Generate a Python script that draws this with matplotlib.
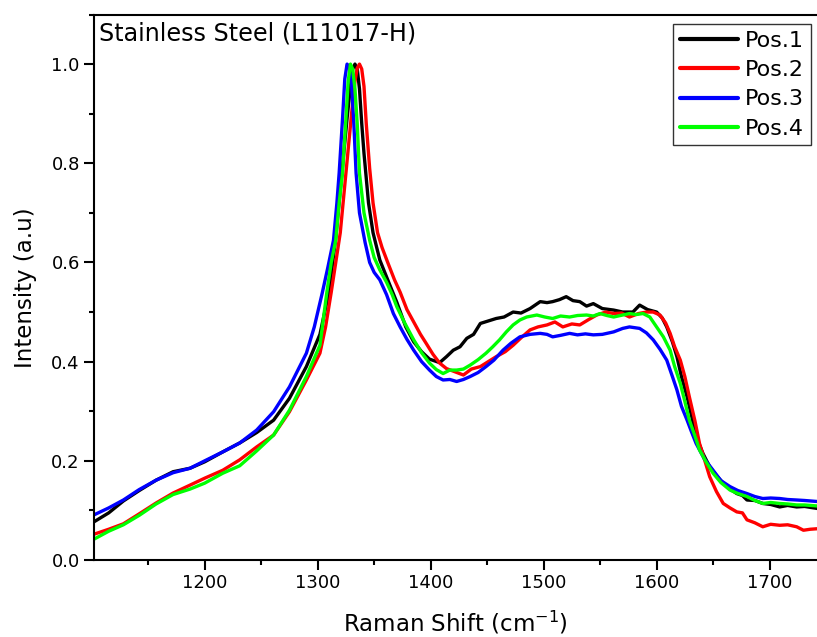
import matplotlib
matplotlib.use("Agg")
import matplotlib.pyplot as plt
from matplotlib.ticker import MultipleLocator

plt.rcParams['font.family'] = ['DejaVu Sans']
plt.rcParams['mathtext.fontset'] = 'dejavusans'

title_text = "Stainless Steel (L11017-H)"
x_label = "Raman Shift (cm$^{-1}$)"
y_label = "Intensity (a.u)"
series_names = ["Pos.1", "Pos.2", "Pos.3", "Pos.4"]
series_colors = ["#000000", "#ff0000", "#0000ff", "#00ff00"]

pos1_x = [1102, 1115, 1128, 1142, 1157, 1172, 1187, 1200, 1216, 1231, 1246, 1261, 1275, 1290, 1302,
          1310, 1316, 1321, 1326, 1329, 1331, 1333, 1335, 1337, 1339, 1341, 1345, 1349, 1355, 1362, 1370, 1378,
          1385, 1392, 1399, 1408, 1414, 1420, 1426, 1432, 1438, 1444, 1451, 1458, 1465, 1473, 1480,
          1488, 1497, 1503, 1508, 1514, 1520, 1526, 1532, 1538, 1544, 1552, 1562, 1570, 1579, 1585,
          1592, 1600, 1605, 1609, 1614, 1618, 1622, 1627, 1631, 1635, 1641, 1647, 1653, 1659, 1665,
          1671, 1676, 1680, 1687, 1694, 1701, 1709, 1716, 1724, 1731, 1742]
pos1_y = [0.077, 0.095, 0.119, 0.140, 0.161, 0.178, 0.185, 0.198, 0.218, 0.236, 0.257, 0.282, 0.326, 0.390, 0.455,
          0.540, 0.650, 0.770, 0.890, 0.955, 0.990, 1.000, 0.990, 0.950, 0.880, 0.820, 0.720, 0.660, 0.605, 0.565, 0.520, 0.470,
          0.440, 0.420, 0.405, 0.398, 0.410, 0.423, 0.430, 0.447, 0.455, 0.477, 0.482, 0.487, 0.490, 0.500, 0.498,
          0.507, 0.521, 0.519, 0.521, 0.525, 0.531, 0.523, 0.521, 0.512, 0.517, 0.507, 0.504, 0.500, 0.500, 0.514,
          0.505, 0.500, 0.488, 0.470, 0.440, 0.410, 0.370, 0.329, 0.290, 0.249, 0.215, 0.188, 0.170, 0.155, 0.143,
          0.134, 0.130, 0.121, 0.120, 0.114, 0.112, 0.107, 0.110, 0.107, 0.108, 0.104]

pos2_x = [1102, 1115, 1128, 1142, 1157, 1172, 1187, 1200, 1216, 1231, 1246, 1261, 1275, 1290, 1302,
          1307, 1312, 1316, 1320, 1325, 1330, 1333, 1335, 1337, 1339, 1341, 1343, 1346, 1349, 1353, 1357, 1362,
          1368, 1373, 1379, 1385, 1391, 1396, 1402, 1408, 1414, 1421, 1429, 1436, 1444, 1451, 1458,
          1466, 1473, 1480, 1488, 1495, 1503, 1510, 1517, 1525, 1532, 1540, 1547, 1555, 1562, 1569,
          1576, 1584, 1591, 1597, 1603, 1608, 1612, 1616, 1621, 1625, 1629, 1634, 1638, 1643, 1647,
          1653, 1659, 1665, 1671, 1676, 1680, 1687, 1694, 1701, 1709, 1716, 1724, 1730, 1736, 1742]
pos2_y = [0.052, 0.062, 0.073, 0.093, 0.115, 0.135, 0.151, 0.165, 0.181, 0.202, 0.228, 0.252, 0.299, 0.363, 0.417,
          0.470, 0.540, 0.600, 0.660, 0.780, 0.900, 0.965, 0.992, 1.000, 0.990, 0.955, 0.880, 0.790, 0.720, 0.660, 0.630, 0.600,
          0.565, 0.540, 0.505, 0.480, 0.455, 0.437, 0.415, 0.397, 0.386, 0.380, 0.373, 0.385, 0.390, 0.400, 0.410,
          0.420, 0.433, 0.448, 0.464, 0.470, 0.474, 0.480, 0.470, 0.476, 0.474, 0.485, 0.494, 0.500, 0.497, 0.498,
          0.490, 0.497, 0.500, 0.500, 0.494, 0.478, 0.457, 0.430, 0.403, 0.370, 0.329, 0.280, 0.235, 0.198, 0.168,
          0.138, 0.114, 0.105, 0.097, 0.095, 0.081, 0.075, 0.067, 0.072, 0.070, 0.071, 0.067, 0.060, 0.062, 0.063]

pos3_x = [1102, 1115, 1128, 1142, 1157, 1172, 1187, 1200, 1216, 1231, 1246, 1261, 1275, 1290, 1297,
          1304, 1309, 1314, 1317, 1319, 1322, 1324, 1326, 1328, 1330, 1332, 1334, 1337, 1342, 1346, 1350, 1355,
          1361, 1367, 1373, 1379, 1385, 1392, 1399, 1405, 1411, 1417, 1423, 1429, 1435, 1442, 1449,
          1456, 1464, 1471, 1479, 1488, 1497, 1503, 1508, 1515, 1523, 1530, 1537, 1544, 1552, 1562,
          1570, 1576, 1585, 1591, 1597, 1603, 1609, 1614, 1618, 1622, 1627, 1631, 1635, 1642, 1650,
          1657, 1665, 1672, 1680, 1687, 1694, 1701, 1709, 1716, 1724, 1731, 1742]
pos3_y = [0.091, 0.105, 0.121, 0.142, 0.161, 0.176, 0.185, 0.200, 0.218, 0.236, 0.262, 0.299, 0.349, 0.417, 0.470,
          0.538, 0.590, 0.645, 0.720, 0.780, 0.890, 0.970, 1.000, 0.995, 0.960, 0.880, 0.780, 0.700, 0.640, 0.600, 0.580, 0.565,
          0.535, 0.497, 0.470, 0.445, 0.423, 0.400, 0.383, 0.370, 0.363, 0.364, 0.360, 0.364, 0.370, 0.378, 0.390,
          0.403, 0.423, 0.437, 0.450, 0.455, 0.457, 0.455, 0.450, 0.453, 0.457, 0.454, 0.456, 0.454, 0.455, 0.460,
          0.467, 0.470, 0.467, 0.458, 0.444, 0.425, 0.403, 0.370, 0.343, 0.310, 0.282, 0.258, 0.235, 0.205, 0.181,
          0.160, 0.148, 0.140, 0.134, 0.128, 0.124, 0.125, 0.124, 0.122, 0.121, 0.120, 0.118]

pos4_x = [1102, 1115, 1128, 1142, 1157, 1172, 1187, 1200, 1216, 1231, 1246, 1261, 1275, 1290, 1302,
          1308, 1312, 1316, 1319, 1322, 1325, 1327, 1329, 1331, 1333, 1335, 1337, 1341, 1346, 1350, 1355, 1361,
          1366, 1370, 1377, 1385, 1392, 1399, 1405, 1411, 1417, 1423, 1429, 1435, 1442, 1449, 1455,
          1461, 1467, 1473, 1479, 1485, 1494, 1501, 1508, 1515, 1523, 1530, 1538, 1544, 1550, 1556,
          1562, 1570, 1576, 1582, 1588, 1594, 1600, 1606, 1612, 1616, 1621, 1625, 1629, 1634, 1638,
          1644, 1650, 1657, 1665, 1672, 1680, 1687, 1694, 1701, 1709, 1716, 1724, 1731, 1742]
pos4_y = [0.042, 0.058, 0.071, 0.090, 0.113, 0.132, 0.143, 0.155, 0.175, 0.190, 0.220, 0.252, 0.302, 0.370, 0.433,
          0.538, 0.600, 0.645, 0.720, 0.780, 0.890, 0.965, 1.000, 0.990, 0.950, 0.880, 0.780, 0.700, 0.645, 0.610, 0.585, 0.560,
          0.535, 0.511, 0.478, 0.444, 0.418, 0.397, 0.384, 0.376, 0.383, 0.383, 0.385, 0.393, 0.404, 0.417, 0.430,
          0.444, 0.460, 0.474, 0.484, 0.490, 0.494, 0.490, 0.487, 0.492, 0.490, 0.493, 0.494, 0.492, 0.497, 0.493,
          0.490, 0.494, 0.497, 0.495, 0.497, 0.490, 0.470, 0.450, 0.423, 0.390, 0.356, 0.320, 0.282, 0.250, 0.222,
          0.197, 0.175, 0.156, 0.141, 0.134, 0.128, 0.120, 0.114, 0.116, 0.114, 0.113, 0.111, 0.111, 0.109]

x_min, x_max = 1102, 1742
y_min, y_max = 0.0, 1.1

W, H = 817, 637
fig = plt.figure(figsize=(W / 100, H / 100), dpi=100)
ax = fig.add_axes([94 / W, (H - 560) / H, (817 - 94) / W, (560 - 14.5) / H])

series = [(pos1_x, pos1_y), (pos2_x, pos2_y), (pos3_x, pos3_y), (pos4_x, pos4_y)]
for (xs, ys), name, col in zip(series, series_names, series_colors):
    ax.plot(xs, ys, color=col, lw=2.4, label=name,
            solid_joinstyle='round', solid_capstyle='round')

ax.set_xlim(x_min, x_max)
ax.set_ylim(y_min, y_max)
ax.xaxis.set_major_locator(MultipleLocator(100))
ax.xaxis.set_minor_locator(MultipleLocator(50))
ax.yaxis.set_major_locator(MultipleLocator(0.2))
ax.yaxis.set_minor_locator(MultipleLocator(0.1))
ax.yaxis.set_major_formatter(matplotlib.ticker.FormatStrFormatter('%.1f'))

for s in ['left', 'bottom', 'top']:
    ax.spines[s].set_linewidth(1.5)
ax.spines['right'].set_visible(False)

ax.tick_params(axis='both', which='major', direction='out', length=7.2, width=1.5,
               labelsize=13, pad=3)
ax.tick_params(axis='both', which='minor', direction='out', length=3.6, width=1.5)

ax.set_xlabel(x_label, fontsize=16.5, labelpad=12)
ax.set_ylabel(y_label, fontsize=16.5, labelpad=10)

ax.text(5 / 723, (560 - 22) / 545.5, title_text, transform=ax.transAxes,
        fontsize=17.2, ha='left', va='top')

leg = ax.legend(loc='upper right', bbox_to_anchor=((811 - 94) / 723, (560 - 24) / 545.5),
                borderaxespad=0, fontsize=16, frameon=True, fancybox=False,
                edgecolor='black', handlelength=2.6, handletextpad=0.35,
                labelspacing=0.42, borderpad=0.3)
leg.get_frame().set_linewidth(1.0)
for line in leg.get_lines():
    line.set_linewidth(3)

fig.savefig("out.png", dpi=100)
